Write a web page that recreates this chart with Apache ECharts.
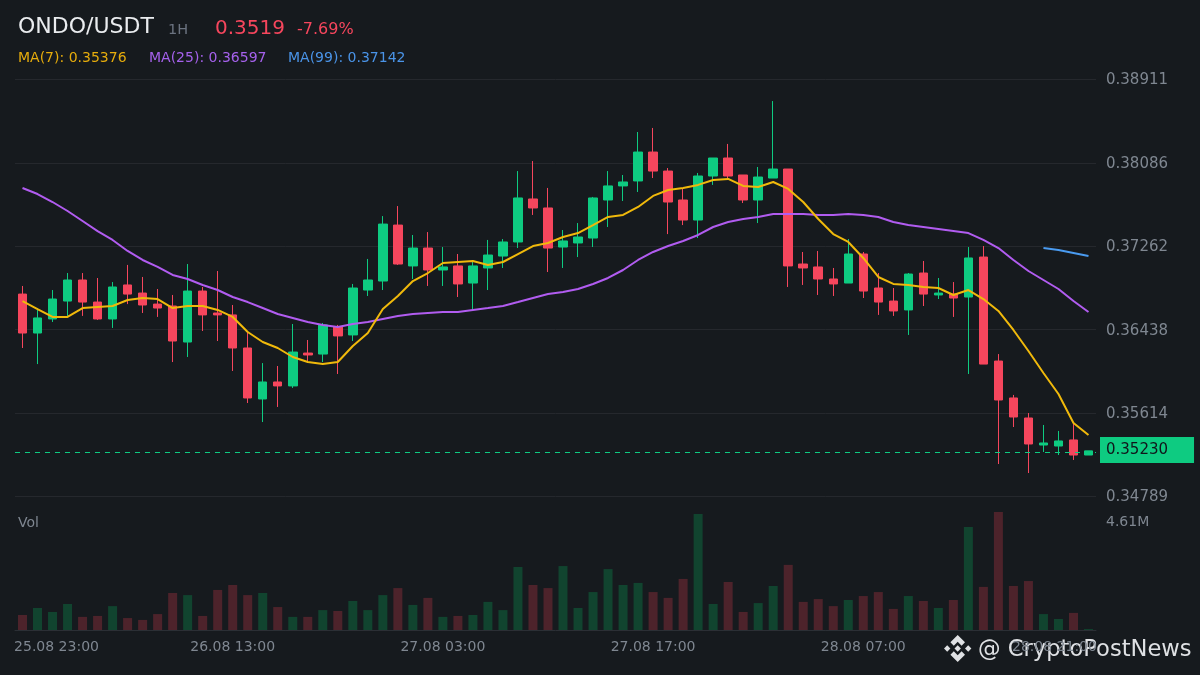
<!DOCTYPE html>
<html><head><meta charset="utf-8">
<style>html,body{margin:0;padding:0;background:#161a1e}#c{width:1200px;height:675px}</style>
<script src="https://cdn.jsdelivr.net/npm/echarts@6/dist/echarts.min.js"></script>
</head><body><div id="c"></div>
<script>
const opens=[.36790,.36405,.36544,.36721,.36929,.36711,.36544,.36880,.36800,.36691,.36672,.36316,.36820,.36603,.36584,.36257,.35753,.35921,.35882,.36207,.36197,.36465,.36386,.36830,.36919,.37472,.37068,.37245,.37028,.37068,.36899,.37048,.37166,.37305,.37730,.37641,.37255,.37295,.37344,.37720,.37859,.37908,.38194,.38006,.37720,.37522,.37957,.38135,.37967,.37720,.37937,.38026,.37087,.37058,.36939,.36899,.37186,.36850,.36721,.36633,.36998,.36781,.36790,.36761,.37156,.36128,.35763,.35565,.35298,.35288,.35348,.35199];
const closes=[.36405,.36554,.36741,.36929,.36711,.36544,.36860,.36790,.36682,.36652,.36326,.36820,.36584,.36584,.36257,.35763,.35921,.35882,.36217,.36188,.36485,.36376,.36850,.36929,.37482,.37087,.37245,.37028,.37058,.36890,.37068,.37176,.37305,.37740,.37641,.37245,.37315,.37354,.37740,.37859,.37898,.38194,.38006,.37700,.37522,.37957,.38135,.37957,.37720,.37947,.38026,.37068,.37048,.36939,.36890,.37186,.36820,.36711,.36623,.36988,.36790,.36800,.36751,.37147,.36098,.35743,.35575,.35308,.35318,.35338,.35199,.35240];
const lows=[.36257,.36098,.36514,.36574,.36574,.36534,.36455,.36691,.36603,.36564,.36118,.36168,.36425,.36326,.36030,.35713,.35525,.35674,.35862,.36118,.36118,.36000,.36326,.36771,.36830,.37078,.36939,.36870,.36870,.36761,.36633,.36830,.37048,.37245,.37572,.37008,.37048,.37156,.37255,.37453,.37710,.37799,.37937,.37383,.37472,.37344,.37869,.37918,.37690,.37492,.37937,.36860,.36880,.36781,.36771,.36899,.36751,.36584,.36574,.36386,.36672,.36741,.36564,.36000,.36098,.35110,.35476,.35021,.35229,.35199,.35150,.35199];
const highs=[.36870,.36652,.36830,.36998,.36998,.36949,.36909,.37078,.36959,.36840,.36781,.37087,.36860,.37018,.36682,.36415,.36108,.36079,.36494,.36336,.36504,.36485,.36890,.37137,.37561,.37660,.37374,.37403,.37255,.37186,.37107,.37325,.37334,.38006,.38105,.37839,.37423,.37492,.37750,.38006,.37967,.38392,.38432,.38036,.37839,.37987,.38135,.38274,.37967,.38046,.38698,.38026,.37206,.37216,.37048,.37334,.37206,.36998,.36850,.36998,.37117,.36949,.36909,.37255,.37265,.36197,.35793,.35614,.35496,.35437,.35516,.35240];
const ma7=[.36721,.36642,.36564,.36564,.36652,.36662,.36672,.36731,.36751,.36741,.36652,.36672,.36672,.36633,.36564,.36415,.36316,.36257,.36168,.36118,.36098,.36118,.36277,.36405,.36642,.36771,.36919,.36998,.37097,.37107,.37117,.37078,.37107,.37186,.37265,.37295,.37354,.37393,.37472,.37552,.37572,.37651,.37760,.37819,.37839,.37869,.37918,.37928,.37859,.37849,.37898,.37829,.37700,.37532,.37383,.37305,.37147,.36959,.36890,.36880,.36860,.36850,.36781,.36830,.36741,.36623,.36435,.36227,.36010,.35802,.35516,.35397];
const ma25=[.37839,.37779,.37700,.37611,.37512,.37413,.37325,.37216,.37127,.37058,.36979,.36939,.36880,.36830,.36761,.36711,.36652,.36593,.36554,.36514,.36485,.36465,.36494,.36514,.36544,.36574,.36593,.36603,.36613,.36613,.36633,.36652,.36672,.36711,.36751,.36790,.36810,.36840,.36890,.36949,.37028,.37127,.37206,.37265,.37315,.37374,.37453,.37502,.37532,.37552,.37582,.37582,.37582,.37572,.37572,.37582,.37572,.37552,.37502,.37472,.37453,.37433,.37413,.37393,.37325,.37245,.37127,.37018,.36929,.36840,.36721,.36613];
const ma99Tail=[.37245,.37226,.37196,.37166];
const volumesM=[.64,.94,.77,1.11,.56,.60,1.02,.51,.43,.68,1.58,1.49,.60,1.71,1.92,1.49,1.58,.98,.56,.56,.85,.81,1.24,.85,1.49,1.79,1.07,1.37,.56,.60,.64,1.20,.85,2.69,1.92,1.79,2.73,.94,1.62,2.60,1.92,2.01,1.62,1.37,2.18,4.95,1.11,2.05,.77,1.15,1.88,2.78,1.20,1.32,1.02,1.28,1.45,1.62,.90,1.45,1.24,.94,1.28,4.40,1.84,5.04,1.88,2.09,.68,.47,.73,.04];
const priceTicks=[.38911,.38086,.37262,.36438,.35614,.34789];
const lastPrice=.3523;
const volTicks=[4.61];
const tickDates=['25.08 23:00','26.08 13:00','27.08 03:00','27.08 17:00','28.08 07:00','28.08 21:00'];
const tickEvery=14;

const N=opens.length;
const categories=Array.from({length:N},(_,i)=>i%tickEvery===0?tickDates[i/tickEvery]:'h'+i);
const ma99=Array.from({length:N},(_,i)=>i>=N-ma99Tail.length?ma99Tail[i-(N-ma99Tail.length)]:null);
const font='"DejaVu Sans"';
const UP='#0ecb81',DOWN='#f6465d',GRID='#25282d',MUTED='#7f8791';
const left=15,width=1081;

function txt(x,y,text,fill,size){return {type:'text',left:x,top:y,silent:true,style:{text,fill,font:size+'px '+font}};}
function poly(points){return {type:'polygon',silent:true,shape:{points},style:{fill:'#dfe1e4'}};}

const chart=echarts.init(document.getElementById('c'),null,{renderer:'canvas'});
chart.setOption({
  animation:false,backgroundColor:'#161a1e',
  grid:[{left,width,top:79.5,height:417},{left,width,top:511,height:119}],
  xAxis:[
    {type:'category',gridIndex:0,data:categories,boundaryGap:true,axisLine:{show:false},axisTick:{show:false},axisLabel:{show:false},splitLine:{show:false}},
    {type:'category',gridIndex:1,data:categories,boundaryGap:true,axisLine:{show:true,lineStyle:{color:'#2b2f35',width:1}},axisTick:{show:false},splitLine:{show:false},
     axisLabel:{color:MUTED,fontFamily:font,fontSize:14,margin:10,interval:(i)=>i%tickEvery===0,showMinLabel:true,hideOverlap:false,
       formatter:(v,i)=>i===0?'{a|'+v+'}':(i===70?'{b|'+v+'}':v),
       rich:{a:{padding:[0,0,0,68],color:MUTED,fontFamily:font,fontSize:14},b:{padding:[0,38,0,0],color:MUTED,fontFamily:font,fontSize:14}}}}
  ],
  yAxis:[
    {type:'value',gridIndex:0,position:'right',min:priceTicks[5],max:priceTicks[0],scale:true,
     axisLine:{show:false},
     axisTick:{show:false,customValues:priceTicks},
     splitLine:{show:true,lineStyle:{color:GRID,width:1}},
     axisLabel:{color:MUTED,fontFamily:font,fontSize:15,margin:10,customValues:priceTicks,formatter:v=>'{p|'+v.toFixed(5)+'}',
       rich:{p:{padding:[2,0,0,0],color:MUTED,fontFamily:font,fontSize:15}}}},
    {type:'value',gridIndex:1,position:'right',min:0,max:5.08,
     axisLine:{show:false},axisTick:{show:false,customValues:volTicks},splitLine:{show:false},
     axisLabel:{color:MUTED,fontFamily:font,fontSize:14,margin:10,customValues:volTicks,formatter:v=>v.toFixed(2)+'M'}}
  ],
  series:[
    {type:'candlestick',xAxisIndex:0,yAxisIndex:0,barWidth:9,
     data:opens.map((o,i)=>[o,closes[i],lows[i],highs[i]]),
     itemStyle:{color:UP,color0:DOWN,borderColor:UP,borderColor0:DOWN,borderWidth:1},
     markLine:{silent:true,symbol:'none',animation:false,precision:5,
       lineStyle:{color:UP,type:[5,5],width:1},
       label:{show:true,position:'end',distance:4,offset:[0,-2],formatter:()=>lastPrice.toFixed(5),color:'#11151a',fontFamily:font,fontSize:15,backgroundColor:UP,padding:[7,26,4,6]},
       data:[{yAxis:lastPrice}]}},
    {type:'line',xAxisIndex:0,yAxisIndex:0,data:ma25,symbol:'none',lineStyle:{color:'#b15cf0',width:2},z:3},
    {type:'line',xAxisIndex:0,yAxisIndex:0,data:ma7,symbol:'none',lineStyle:{color:'#f0b90b',width:2},z:4},
    {type:'line',xAxisIndex:0,yAxisIndex:0,data:ma99,symbol:'none',connectNulls:false,lineStyle:{color:'#4a9bf0',width:2},z:3},
    {type:'bar',xAxisIndex:1,yAxisIndex:1,barWidth:9,
     data:volumesM.map((v,i)=>({value:v,itemStyle:{color:closes[i]>=opens[i]?'#11442f':'#4d232b'}}))}
  ],
  graphic:[
    txt(18,16,'ONDO/USDT','#eaecef',22),
    txt(168,23,'1H','#6b7380',14.5),
    txt(215,19,'0.3519',DOWN,20),
    txt(297,22,'-7.69%',DOWN,16),
    txt(18,51,'MA(7): 0.35376','#e6ac0c',14),
    txt(149,51,'MA(25): 0.36597','#a561ec',14),
    txt(288,51,'MA(99): 0.37142','#4a94e8',14),
    txt(18,516,'Vol',MUTED,14),
    {type:'group',left:944,top:635,silent:true,children:[
      poly([[13.7,0],[21,7.3],[17.6,10.7],[13.7,6.8],[9.8,10.7],[6.4,7.3]]),
      poly([[13.7,27],[21,19.7],[17.6,16.3],[13.7,20.2],[9.8,16.3],[6.4,19.7]]),
      poly([[0,13.5],[3.2,10.3],[6.4,13.5],[3.2,16.7]]),
      poly([[27.4,13.5],[24.2,10.3],[21,13.5],[24.2,16.7]]),
      poly([[13.7,10.3],[16.9,13.5],[13.7,16.7],[10.5,13.5]])
    ]},
    txt(978,639,'@ CryptoPostNews','#dfe1e4',22.6)
  ]
});
</script></body></html>
